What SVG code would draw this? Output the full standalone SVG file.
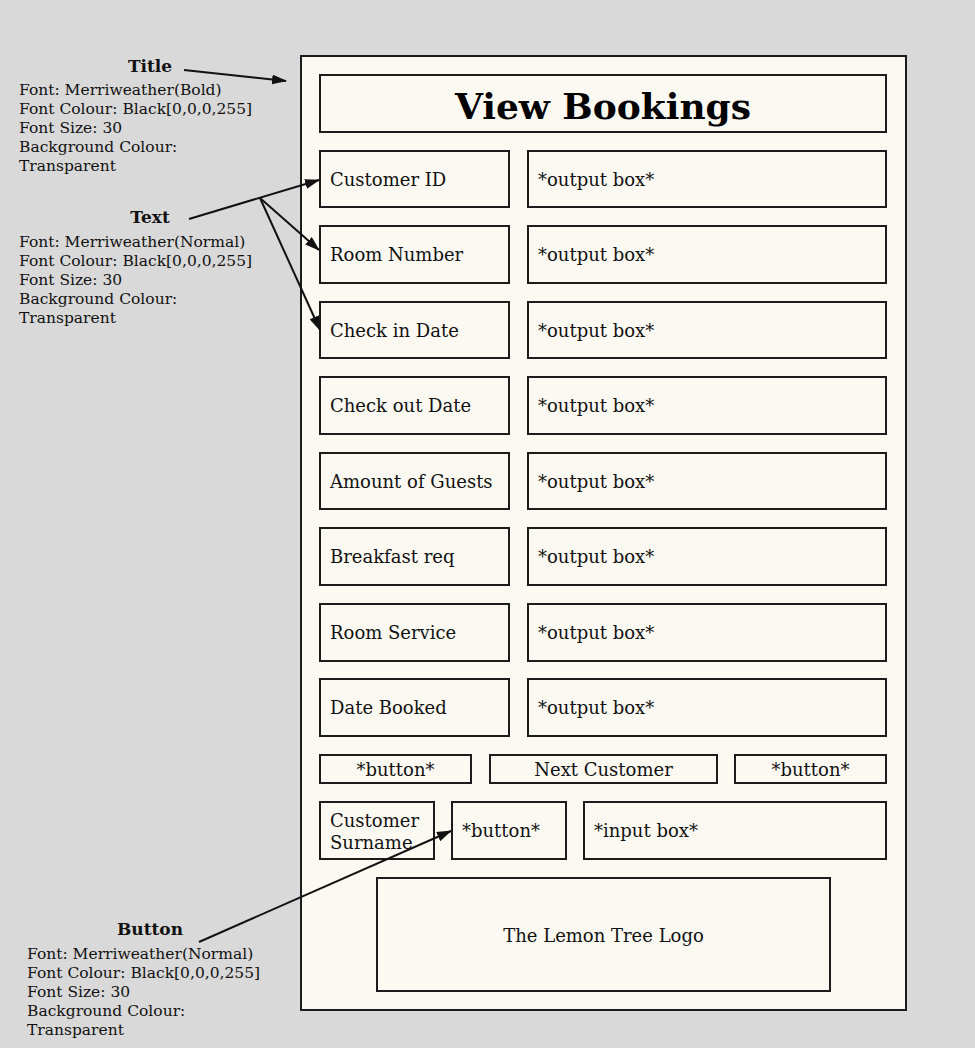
<svg xmlns="http://www.w3.org/2000/svg" width="975" height="1048" viewBox="0 0 975 1048">
<defs>
<marker id="ah" markerWidth="15" markerHeight="10" refX="14" refY="5" orient="auto" markerUnits="userSpaceOnUse">
<path d="M0,0 L15,5 L0,10 Z" fill="#111"/>
</marker>
<style>
.box{fill:#fcf9f2;stroke:#1c1c1c;stroke-width:2}
.lbl{font-family:"DejaVu Serif","Liberation Serif",serif;font-size:18px;fill:#111}
.ann{font-family:"DejaVu Serif","Liberation Serif",serif;font-size:15.5px;fill:#111}
.annh{font-family:"DejaVu Serif","Liberation Serif",serif;font-size:17px;font-weight:bold;fill:#111;text-anchor:middle}
.title{font-family:"DejaVu Serif","Liberation Serif",serif;font-size:36px;font-weight:bold;fill:#000;text-anchor:middle}
.mid{text-anchor:middle}
.con{stroke:#111;stroke-width:2;fill:none}
</style>
</defs>
<rect x="0" y="0" width="975" height="1048" fill="#d9d9d9"/>
<g id="panel"><rect class="box" x="301" y="56" width="605" height="954"/></g>
<g id="title-box"><rect class="box" x="320" y="75" width="566" height="57"/><text class="title" x="603" y="119">View Bookings</text></g>

<g id="row-customer-id"><rect class="box" x="320" y="151" width="189" height="56"/><text class="lbl" x="330" y="186">Customer ID</text><rect class="box" x="528" y="151" width="358" height="56"/><text class="lbl" x="538" y="186">*output box*</text></g>
<g id="row-room-number"><rect class="box" x="320" y="226" width="189" height="57"/><text class="lbl" x="330" y="261">Room Number</text><rect class="box" x="528" y="226" width="358" height="57"/><text class="lbl" x="538" y="261">*output box*</text></g>
<g id="row-check-in"><rect class="box" x="320" y="302" width="189" height="56"/><text class="lbl" x="330" y="337">Check in Date</text><rect class="box" x="528" y="302" width="358" height="56"/><text class="lbl" x="538" y="337">*output box*</text></g>
<g id="row-check-out"><rect class="box" x="320" y="377" width="189" height="57"/><text class="lbl" x="330" y="412">Check out Date</text><rect class="box" x="528" y="377" width="358" height="57"/><text class="lbl" x="538" y="412">*output box*</text></g>
<g id="row-guests"><rect class="box" x="320" y="453" width="189" height="56"/><text class="lbl" x="330" y="488">Amount of Guests</text><rect class="box" x="528" y="453" width="358" height="56"/><text class="lbl" x="538" y="488">*output box*</text></g>
<g id="row-breakfast"><rect class="box" x="320" y="528" width="189" height="57"/><text class="lbl" x="330" y="563">Breakfast req</text><rect class="box" x="528" y="528" width="358" height="57"/><text class="lbl" x="538" y="563">*output box*</text></g>
<g id="row-room-service"><rect class="box" x="320" y="604" width="189" height="57"/><text class="lbl" x="330" y="639">Room Service</text><rect class="box" x="528" y="604" width="358" height="57"/><text class="lbl" x="538" y="639">*output box*</text></g>
<g id="row-date-booked"><rect class="box" x="320" y="679" width="189" height="57"/><text class="lbl" x="330" y="714">Date Booked</text><rect class="box" x="528" y="679" width="358" height="57"/><text class="lbl" x="538" y="714">*output box*</text></g>

<g id="btn-left"><rect class="box" x="320" y="755" width="151" height="28"/><text class="lbl mid" x="395.5" y="776">*button*</text></g>
<g id="btn-next"><rect class="box" x="490" y="755" width="227" height="28"/><text class="lbl mid" x="603.5" y="776">Next Customer</text></g>
<g id="btn-right"><rect class="box" x="735" y="755" width="151" height="28"/><text class="lbl mid" x="810.5" y="776">*button*</text></g>

<g id="surname-label"><rect class="box" x="320" y="802" width="114" height="57"/><text class="lbl" x="330" y="827">Customer</text><text class="lbl" x="330" y="849">Surname</text></g>
<g id="surname-button"><rect class="box" x="452" y="802" width="114" height="57"/><text class="lbl" x="462" y="837">*button*</text></g>
<g id="surname-input"><rect class="box" x="584" y="802" width="302" height="57"/><text class="lbl" x="594" y="837">*input box*</text></g>

<g id="logo"><rect class="box" x="377" y="878" width="453" height="113"/><text class="lbl mid" x="603.5" y="942">The Lemon Tree Logo</text></g>

<g id="note-title"><text class="annh" x="150" y="72">Title</text>
<text class="ann" x="19" y="95">Font: Merriweather(Bold)</text>
<text class="ann" x="19" y="114">Font Colour: Black[0,0,0,255]</text>
<text class="ann" x="19" y="133">Font Size: 30</text>
<text class="ann" x="19" y="152">Background Colour:</text>
<text class="ann" x="19" y="171">Transparent</text></g>
<g id="note-text"><text class="annh" x="150" y="223">Text</text>
<text class="ann" x="19" y="247">Font: Merriweather(Normal)</text>
<text class="ann" x="19" y="266">Font Colour: Black[0,0,0,255]</text>
<text class="ann" x="19" y="285">Font Size: 30</text>
<text class="ann" x="19" y="304">Background Colour:</text>
<text class="ann" x="19" y="323">Transparent</text></g>
<g id="note-button"><text class="annh" x="150" y="935">Button</text>
<text class="ann" x="27" y="959">Font: Merriweather(Normal)</text>
<text class="ann" x="27" y="978">Font Colour: Black[0,0,0,255]</text>
<text class="ann" x="27" y="997">Font Size: 30</text>
<text class="ann" x="27" y="1016">Background Colour:</text>
<text class="ann" x="27" y="1035">Transparent</text></g>

<g id="connectors">
<line class="con" x1="184" y1="70" x2="286" y2="81" marker-end="url(#ah)"/>
<line class="con" x1="189" y1="219" x2="319" y2="180" marker-end="url(#ah)"/>
<line class="con" x1="260" y1="198" x2="319" y2="250" marker-end="url(#ah)"/>
<line class="con" x1="260" y1="198" x2="320" y2="330" marker-end="url(#ah)"/>
<line class="con" x1="199" y1="942" x2="451" y2="831" marker-end="url(#ah)"/>
</g>
</svg>
